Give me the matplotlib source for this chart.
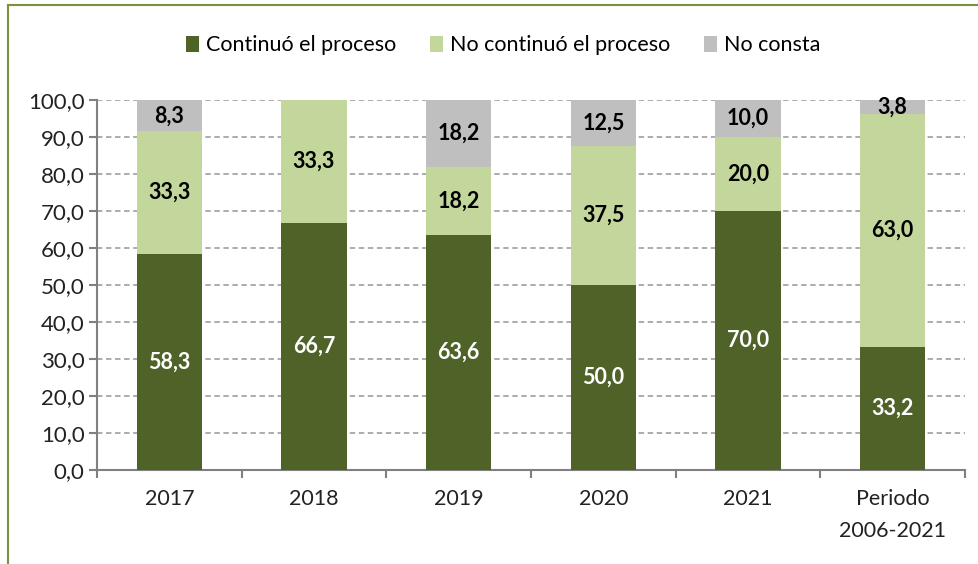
import matplotlib.pyplot as plt
import numpy as np

categories = ["2017", "2018", "2019", "2020", "2021", "Periodo\n2006-2021"]
continuo = [58.3, 66.7, 63.6, 50.0, 70.0, 33.2]
no_continuo = [33.3, 33.3, 18.2, 37.5, 20.0, 63.0]
no_consta = [8.3, 0.0, 18.2, 12.5, 10.0, 3.8]
series_names = ["Continuó el proceso", "No continuó el proceso", "No consta"]
colors = ["#4f6228", "#c3d69b", "#bfbfbf"]
label_colors = ["white", "black", "black"]

plt.rcParams['font.family'] = ['Lato', 'DejaVu Sans']

fig = plt.figure(figsize=(9.79, 5.64), dpi=100)
ax = fig.add_axes([0.0991, 0.1667, 0.8866, 0.656])

x = np.arange(len(categories))
bottom = np.zeros(len(categories))
for vals, name, col, lc in zip([continuo, no_continuo, no_consta], series_names, colors, label_colors):
    vals = np.array(vals)
    ax.bar(x, vals, width=0.45, bottom=bottom, color=col, label=name, zorder=3)
    for xi, v, b in zip(x, vals, bottom):
        if v > 0:
            ax.text(xi, b + v / 2, f"{v:.1f}".replace(".", ","), ha="center", va="center",
                    color=lc, fontsize=15.5, fontweight="bold", zorder=4)
    bottom += vals

ax.set_xlim(-0.5, len(categories) - 0.5)
ax.set_ylim(0, 100)
ax.set_yticks(np.arange(0, 101, 10))
ax.set_yticklabels([f"{v:.1f}".replace(".", ",") for v in np.arange(0, 101, 10)])
ax.set_xticks(x)
ax.set_xticklabels(categories, linespacing=1.75)
ax.set_xticks(np.arange(-0.5, len(categories)), minor=True)
ax.tick_params(axis="x", which="major", length=0, pad=14, labelsize=15.5, colors="#222222")
ax.tick_params(axis="x", which="minor", length=6, width=1.5, color="#808080", direction="out")
ax.tick_params(axis="y", length=6, width=1.5, color="#808080", labelsize=16, labelcolor="#222222", pad=3)

ax.grid(axis="y", linestyle=(0, (3, 2)), color="#a6a6a6", linewidth=1.3, zorder=0)
for s in ["top", "right"]:
    ax.spines[s].set_visible(False)
for s in ["left", "bottom"]:
    ax.spines[s].set_color("#808080")
    ax.spines[s].set_linewidth(1.5)

ax.legend(loc="center", bbox_to_anchor=(0.468, 1.148), ncol=3, frameon=False, fontsize=15.5,
          handlelength=0.6, handleheight=0.8, handletextpad=0.3, columnspacing=1.6)

# outer frame lines (top and left visible in source)
fig.add_artist(plt.Line2D([0.0082, 0.0082], [0, 0.991], color="#77933c", linewidth=1.5, transform=fig.transFigure))
fig.add_artist(plt.Line2D([0.0082, 1.0], [0.991, 0.991], color="#77933c", linewidth=1.5, transform=fig.transFigure))

fig.savefig("out.png", dpi=100)
